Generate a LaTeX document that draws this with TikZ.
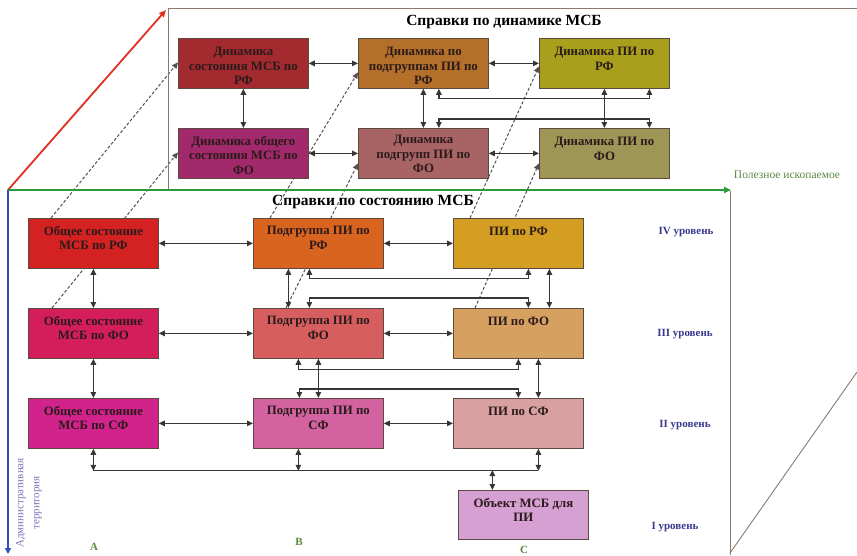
\documentclass[tikz,border=0pt]{standalone}
\usepackage{fontspec}
\setmainfont{Liberation Serif}
\usetikzlibrary{arrows.meta,calc}
\pgfdeclarelayer{bg}
\pgfsetlayers{bg,main}

% fills of the cards
\definecolor{tA}{HTML}{A32A2E}
\definecolor{tB}{HTML}{B4702A}
\definecolor{tC}{HTML}{A8A01C}
\definecolor{tD}{HTML}{A2296B}
\definecolor{tE}{HTML}{A86464}
\definecolor{tF}{HTML}{9E9656}
\definecolor{fA}{HTML}{D42222}
\definecolor{fB}{HTML}{D86420}
\definecolor{fC}{HTML}{D49E22}
\definecolor{fD}{HTML}{D41E5C}
\definecolor{fE}{HTML}{D65E5E}
\definecolor{fF}{HTML}{D6A060}
\definecolor{fG}{HTML}{D2228C}
\definecolor{fH}{HTML}{D262A0}
\definecolor{fI}{HTML}{D8A0A0}
\definecolor{fObj}{HTML}{D6A0D2}
% lines and inks
\definecolor{boxedge}{HTML}{5A4A40}
\definecolor{boxink}{HTML}{2A1A1A}
\definecolor{linkcol}{HTML}{3A3535}
\definecolor{dashcol}{HTML}{555050}
\definecolor{framecol}{HTML}{8A7A70}
\definecolor{axred}{HTML}{E03020}
\definecolor{axgreen}{HTML}{2A9A3A}
\definecolor{axblue}{HTML}{3050B0}
\definecolor{levelink}{HTML}{3A3A90}
\definecolor{greenink}{HTML}{5A8A40}
\definecolor{adminink}{HTML}{7A78B8}

\begin{document}
\begin{tikzpicture}[x=1pt,y=-1pt,
  card/.style={draw=boxedge, line width=0.8pt, minimum width=130pt,
    minimum height=50pt, anchor=north west, inner sep=0pt},
  cardtext/.style={anchor=north, align=center, inner sep=0pt, text=boxink,
    font=\bfseries\fontsize{12.8}{14.5}\selectfont},
  tip/.tip={Triangle[length=6pt,width=5.5pt]},
  conn/.style={draw=linkcol, line width=1.2pt},
  bi/.style={conn, tip-tip},
  dashlink/.style={draw=dashcol, line width=1pt,
    dash pattern=on 3pt off 2pt, -tip},
  frameline/.style={draw=framecol, line width=0.9pt},
  title/.style={font=\bfseries\fontsize{15.5}{18}\selectfont, text=black},
  level/.style={font=\bfseries\fontsize{11}{13}\selectfont, text=levelink},
  colname/.style={font=\bfseries\fontsize{11}{13}\selectfont, text=greenink}
]
\useasboundingbox (0,0) rectangle (857,555);
\begin{pgfonlayer}{bg}
\fill[white] (0,0) rectangle (857,555);
\end{pgfonlayer}

% ---------- axes and box frame ----------
\coordinate (O) at (8,190);
\coordinate (backcorner) at (168,8);
\draw[frameline] (168,190) -- (backcorner) -- (857,8);
\draw[frameline] (730,191) -- (730,555);
\draw[frameline] (730,553) -- (857,372);
\draw[axred, line width=1.8pt, -{Triangle[length=7pt,width=6pt]}] (O) -- (166,10);
\draw[axgreen, line width=2pt, -{Triangle[length=7pt,width=6pt]}] (O) -- (731,190);
\draw[axblue, line width=1.8pt, -{Triangle[length=6pt,width=6pt]}] (O) -- (8,554);

\node[font=\fontsize{11.5}{13}\selectfont, text=greenink] (mineral) at (787,175) {Полезное ископаемое};
\node[rotate=90, align=center, font=\fontsize{11}{16}\selectfont, text=adminink]
  (admin) at (29,503) {Административная\\территория};

% ---------- dynamics panel ----------
\node[title] (dyntitle) at (504,22) {Справки по динамике МСБ};

\node[card, fill=tA] (T1) at (178,38) {};
\node[card, fill=tB] (T2) at (358,38) {};
\node[card, fill=tC] (T3) at (539,38) {};
\node[card, fill=tD] (T4) at (178,128) {};
\node[card, fill=tE] (T5) at (358,128) {};
\node[card, fill=tF] (T6) at (539,128) {};

\node[cardtext] (T1t) at ([yshift=-9pt]T1.north) {Динамика\\состояния МСБ по\\РФ};
\node[cardtext] (T2t) at ([yshift=-9pt]T2.north) {Динамика по\\подгруппам ПИ по\\РФ};
\node[cardtext] (T3t) at ([yshift=-9pt]T3.north) {Динамика ПИ по\\РФ};
\node[cardtext] (T4t) at ([yshift=-8pt]T4.north) {Динамика общего\\состояния МСБ по\\ФО};
\node[cardtext] (T5t) at ([yshift=-7pt]T5.north) {Динамика\\подгрупп ПИ по\\ФО};
\node[cardtext] (T6t) at ([yshift=-9pt]T6.north) {Динамика ПИ по\\ФО};

\draw[bi] (T1.east) -- (T2.west);
\draw[bi] (T2.east) -- (T3.west);
\draw[bi] (T4.east) -- (T5.west);
\draw[bi] (T5.east) -- (T6.west);
\draw[bi] (T1.south) -- (T4.north);
\draw[bi] (T2.south) -- (T5.north);
\draw[bi] (T3.south) -- (T6.north);
\draw[bi] ([xshift=15.5pt]T2.south) -- ++(0,10) -| ([xshift=45pt]T3.south);
\draw[bi] ([xshift=15.5pt]T5.north) -- ++(0,-9) -| ([xshift=45pt]T6.north);

% ---------- state panel ----------
\node[title] (sttitle) at (373,202) {Справки по состоянию МСБ};

\node[card, fill=fA] (F1) at (28,218) {};
\node[card, fill=fB] (F2) at (253,218) {};
\node[card, fill=fC] (F3) at (453,218) {};
\node[card, fill=fD] (F4) at (28,308) {};
\node[card, fill=fE] (F5) at (253,308) {};
\node[card, fill=fF] (F6) at (453,308) {};
\node[card, fill=fG] (F7) at (28,398) {};
\node[card, fill=fH] (F8) at (253,398) {};
\node[card, fill=fI] (F9) at (453,398) {};
\node[card, fill=fObj, minimum height=49pt] (Obj) at (458,490) {};

\node[cardtext] (F1t) at ([yshift=-8pt]F1.north) {Общее состояние\\МСБ по РФ};
\node[cardtext] (F2t) at ([yshift=-8pt]F2.north) {Подгруппа ПИ по\\РФ};
\node[cardtext] (F3t) at ([yshift=-9pt]F3.north) {ПИ по РФ};
\node[cardtext] (F4t) at ([yshift=-8pt]F4.north) {Общее состояние\\МСБ по ФО};
\node[cardtext] (F5t) at ([yshift=-8pt]F5.north) {Подгруппа ПИ по\\ФО};
\node[cardtext] (F6t) at ([yshift=-9pt]F6.north) {ПИ по ФО};
\node[cardtext] (F7t) at ([yshift=-8pt]F7.north) {Общее состояние\\МСБ по СФ};
\node[cardtext] (F8t) at ([yshift=-8pt]F8.north) {Подгруппа ПИ по\\СФ};
\node[cardtext] (F9t) at ([yshift=-9pt]F9.north) {ПИ по СФ};
\node[cardtext] (Objt) at ([yshift=-8pt]Obj.north) {Объект МСБ для\\ПИ};

% horizontal links
\draw[bi] (F1.east) -- (F2.west);
\draw[bi] (F2.east) -- (F3.west);
\draw[bi] (F4.east) -- (F5.west);
\draw[bi] (F5.east) -- (F6.west);
\draw[bi] (F7.east) -- (F8.west);
\draw[bi] (F8.east) -- (F9.west);
% vertical links
\draw[bi] (F1.south) -- (F4.north);
\draw[bi] (F4.south) -- (F7.north);
\draw[bi] ([xshift=-30pt]F2.south) -- ([xshift=-30pt]F5.north);
\draw[bi] ([xshift=31pt]F3.south) -- ([xshift=31pt]F6.north);
\draw[bi] (F5.south) -- (F8.north);
\draw[bi] ([xshift=20pt]F6.south) -- ([xshift=20pt]F9.north);
% bus links between columns B and C
\draw[bi] ([xshift=-9pt]F2.south) -- ++(0,10) -| ([xshift=10pt]F3.south);
\draw[bi] ([xshift=-9pt]F5.north) -- ++(0,-10) -| ([xshift=10pt]F6.north);
\draw[bi] ([xshift=-20pt]F5.south) -- ++(0,11) -| (F6.south);
\draw[bi] ([xshift=-19pt]F8.north) -- ++(0,-9) -| (F9.north);
% bottom bus
\draw[bi] (F7.south) -- ++(0,22) coordinate (busA);
\draw[bi] ([xshift=-20pt]F8.south) -- ++(0,22);
\draw[bi] ([xshift=20pt]F9.south) -- ++(0,22) coordinate (busC);
\draw[conn] (busA) -- (busC);
\draw[bi] ([xshift=-31pt]Obj.north) -- ++(0,-20);

% projections from the state cards to the dynamics cards
\begin{pgfonlayer}{bg}
\draw[dashlink] ([xshift=23pt]F1.north west) -- ([yshift=1pt]T1.west);
\draw[dashlink] ([xshift=24pt]F4.north west) -- ([yshift=1pt]T4.west);
\draw[dashlink] ([xshift=17pt]F2.north west) -- ([yshift=-9pt]T2.west);
\draw[dashlink] ([xshift=33pt]F5.north west) -- ([yshift=-10pt]T5.west);
\draw[dashlink] ([xshift=17pt]F3.north west) -- ([yshift=-3pt]T3.west);
\draw[dashlink] ([xshift=22pt]F6.north west) -- ([yshift=-10pt]T6.west);
\end{pgfonlayer}

% ---------- level and column captions ----------
\node[level] (lv4) at (686,232) {IV уровень};
\node[level] (lv3) at (685,334) {III уровень};
\node[level] (lv2) at (685,425) {II уровень};
\node[level] (lv1) at (675,527) {I уровень};
\node[colname] (colA) at (94,547) {A};
\node[colname] (colB) at (299,542) {B};
\node[colname] (colC) at (524,550) {C};
\end{tikzpicture}
\end{document}
